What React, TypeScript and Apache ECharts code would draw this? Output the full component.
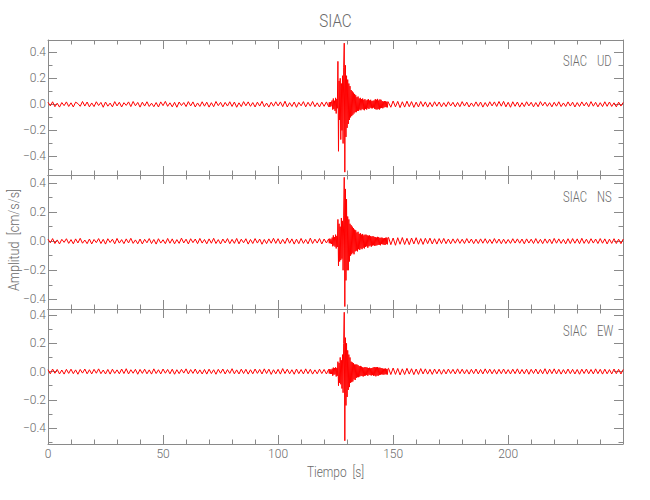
import React, { useEffect, useRef } from "react";
import * as echarts from "echarts";

// ---- Data (acceleration, cm/s/s) ----
const stationName = "SIAC";
const componentNames = ["UD", "NS", "EW"];
const xTickLabels = ["0", "50", "100", "150", "200"];
const yTickLabels = ["-0.4", "-0.2", "0.0", "0.2", "0.4"];

// sampling of the three segments of each trace (s)
const preStart = 0;
const preStep = 1;
const eventStart = 122;
const eventStep = 0.25;
const postStart = 148;
const postStep = 1;

const udPre = [
  0.016,-0.012,0.02,-0.018,0.009,-0.021,0.014,-0.01,0.019,-0.016,
  0.012,-0.02,0.017,0.006,-0.015,0.022,-0.013,0.018,-0.019,0.011,
  -0.017,0.02,-0.009,0.015,-0.022,0.018,-0.014,0.01,-0.019,0.021,
  -0.012,0.016,-0.02,0.013,-0.008,0.019,-0.017,0.022,-0.011,0.015,
  -0.021,0.017,-0.013,0.02,-0.016,0.009,-0.018,0.014,-0.02,0.019,
  -0.01,0.023,-0.015,0.012,-0.019,0.016,-0.022,0.018,-0.009,0.014,
  -0.017,0.021,-0.012,0.019,-0.02,0.011,-0.016,0.02,-0.014,0.017,
  -0.021,0.013,-0.018,0.022,-0.01,0.016,-0.019,0.015,-0.013,0.02,
  -0.016,0.018,-0.022,0.012,-0.017,0.021,-0.011,0.019,-0.015,0.014,
  -0.02,0.017,-0.013,0.023,-0.018,0.01,-0.021,0.016,-0.014,0.02,
  -0.012,0.019,-0.017,0.024,-0.02,0.013,-0.016,0.018,-0.022,0.015,
  -0.011,0.021,-0.019,0.016,-0.014,0.022,-0.018,0.012,-0.02,0.017,
  -0.015,0.019,
];
const udEvent = [
  -0.018,0.016,-0.02,0.017,-0.015,0.021,
  0.03,-0.04,0.045,-0.035,0.028,-0.05,
  0.05,-0.07,0.04,-0.03,
  0.33,-0.36,0.18,-0.12,
  0.2,-0.27,0.16,-0.2,
  0.22,-0.3,0.28,
  0.47,-0.52,0.3,
  -0.25,0.22,-0.18,0.19,
  -0.15,0.16,-0.12,0.14,
  -0.1,0.11,-0.09,0.1,-0.08,0.09,
  -0.07,0.08,-0.06,0.07,-0.06,0.055,-0.05,0.06,
  -0.05,0.045,-0.04,0.05,-0.045,0.04,-0.035,0.045,-0.04,0.035,-0.045,0.04,
  -0.035,0.03,-0.04,0.035,-0.03,0.04,-0.035,0.03,-0.025,0.035,-0.03,0.025,
  -0.03,0.028,-0.025,0.03,-0.035,0.04,-0.038,0.035,-0.04,0.042,-0.035,0.03,
  -0.04,0.038,-0.03,0.035,-0.028,0.025,-0.03,0.022,
  -0.024,0.025,-0.02,0.024,-0.022,0.02,-0.023,0.021,
];
const udPost = [
  0.024,-0.022,0.026,-0.019,0.023,-0.025,0.02,-0.021,0.024,-0.018,
  0.021,-0.023,0.017,-0.02,0.022,-0.016,0.019,-0.021,0.015,-0.018,
  0.02,-0.014,0.018,-0.019,0.013,-0.017,0.02,-0.012,0.016,-0.019,
  0.015,-0.018,0.021,-0.013,0.017,-0.02,0.011,-0.016,0.019,-0.015,
  0.018,-0.021,0.014,-0.017,0.02,-0.012,0.019,-0.016,0.022,-0.014,
  0.023,-0.019,0.016,-0.022,0.02,-0.015,0.018,-0.021,0.013,-0.017,
  0.02,-0.012,0.016,-0.019,0.014,-0.018,0.021,-0.011,0.017,-0.015,
  0.013,-0.019,0.016,-0.014,0.02,-0.017,0.011,-0.016,0.019,-0.013,
  0.017,-0.02,0.014,-0.016,0.019,-0.012,0.015,-0.018,0.021,-0.014,
  0.016,-0.019,0.013,-0.017,0.02,-0.015,0.018,-0.016,0.012,-0.019,
  0.017,-0.013,0.015,
];

const nsPre = [
  0.014,-0.011,0.018,-0.016,0.009,-0.019,0.013,-0.008,0.017,-0.015,
  0.011,-0.018,0.016,-0.012,0.02,-0.014,0.008,-0.017,0.015,-0.019,
  0.012,-0.01,0.018,-0.016,0.013,-0.02,0.017,-0.009,0.014,-0.018,
  0.019,-0.013,0.011,-0.017,0.016,-0.012,0.02,-0.015,0.009,-0.018,
  0.015,-0.019,0.013,-0.011,0.018,-0.016,0.012,-0.02,0.017,-0.013,
  0.01,-0.017,0.019,-0.014,0.016,-0.018,0.011,-0.015,0.021,-0.012,
  0.014,-0.019,0.017,-0.01,0.015,-0.017,0.019,-0.013,0.012,-0.018,
  0.016,-0.014,0.02,-0.016,0.011,-0.019,0.015,-0.012,0.018,-0.017,
  0.013,-0.015,0.019,-0.018,0.014,-0.011,0.017,-0.02,0.012,-0.016,
  0.018,-0.013,0.015,-0.021,0.012,-0.017,0.016,-0.014,0.02,-0.015,
  0.017,-0.019,0.013,-0.016,0.022,-0.014,0.016,-0.02,0.014,-0.017,
  0.019,-0.015,0.012,-0.018,0.021,-0.016,0.014,-0.013,0.018,-0.019,
  0.015,-0.012,
];
const nsEvent = [
  0.016,-0.014,0.018,-0.015,0.013,-0.019,
  0.025,-0.035,0.04,-0.03,0.028,-0.038,
  0.045,-0.05,0.035,-0.04,
  0.15,-0.17,0.12,-0.14,
  0.1,-0.13,0.16,-0.12,
  0.14,-0.2,0.18,
  0.44,-0.45,0.36,
  -0.27,0.29,-0.2,0.17,
  -0.2,0.15,-0.14,0.12,
  -0.1,0.11,-0.09,0.1,-0.08,0.09,
  -0.09,0.08,-0.07,0.075,-0.065,0.06,-0.07,0.065,
  -0.055,0.05,-0.06,0.055,-0.05,0.045,-0.055,0.05,-0.045,0.04,-0.05,0.045,
  -0.04,0.045,-0.035,0.04,-0.045,0.038,-0.035,0.04,-0.03,0.035,-0.038,0.032,
  -0.03,0.035,-0.028,0.03,-0.032,0.028,-0.03,0.025,-0.028,0.03,-0.025,0.028,
  -0.025,0.022,-0.028,0.025,-0.02,0.024,-0.022,0.02,
  -0.024,0.022,-0.026,0.024,-0.02,0.025,-0.022,0.023,
];
const nsPost = [
  0.026,-0.024,0.022,-0.028,0.024,-0.021,0.025,-0.023,0.02,-0.024,
  0.022,-0.019,0.024,-0.021,0.018,-0.022,0.02,-0.017,0.021,-0.019,
  0.017,-0.02,0.018,-0.016,0.019,-0.017,0.015,-0.018,0.016,-0.014,
  0.017,-0.015,0.014,-0.016,0.018,-0.013,0.015,-0.017,0.014,-0.016,
  0.016,-0.014,0.017,-0.015,0.013,-0.016,0.018,-0.014,0.015,-0.017,
  0.014,-0.016,0.012,-0.015,0.017,-0.013,0.016,-0.014,0.015,-0.018,
  0.016,-0.013,0.014,-0.016,0.018,-0.015,0.013,-0.017,0.016,-0.014,
  0.015,-0.017,0.019,-0.014,0.016,-0.015,0.013,-0.018,0.017,-0.016,
  0.018,-0.014,0.016,-0.017,0.02,-0.015,0.014,-0.016,0.017,-0.013,
  0.015,-0.016,0.018,-0.014,0.016,-0.019,0.014,-0.015,0.017,-0.016,
  0.014,-0.017,0.015,
];

const ewPre = [
  0.013,-0.016,0.018,-0.012,0.015,-0.017,0.011,-0.018,0.016,-0.013,
  0.017,-0.015,0.012,-0.019,0.015,-0.011,0.018,-0.016,0.013,-0.017,
  0.016,-0.012,0.019,-0.015,0.011,-0.017,0.015,-0.018,0.017,-0.013,
  0.012,-0.016,0.018,-0.014,0.02,-0.017,0.013,-0.012,0.016,-0.019,
  0.015,-0.013,0.017,-0.016,0.012,-0.018,0.019,-0.014,0.013,-0.017,
  0.018,-0.012,0.015,-0.016,0.017,-0.019,0.013,-0.015,0.016,-0.011,
  0.019,-0.017,0.014,-0.013,0.018,-0.016,0.012,-0.017,0.015,-0.018,
  0.017,-0.014,0.013,-0.019,0.016,-0.012,0.018,-0.017,0.014,-0.013,
  0.02,-0.016,0.012,-0.017,0.017,-0.014,0.016,-0.018,0.013,-0.016,
  0.018,-0.013,0.015,-0.017,0.019,-0.014,0.017,-0.02,0.013,-0.016,
  0.016,-0.018,0.021,-0.014,0.017,-0.016,0.013,-0.019,0.018,-0.015,
  0.014,-0.017,0.019,-0.015,0.016,-0.018,0.012,-0.016,0.017,-0.014,
  0.015,-0.017,
];
const ewEvent = [
  0.016,-0.014,0.018,-0.016,0.013,-0.017,
  0.02,-0.03,0.028,-0.022,0.025,-0.02,
  0.03,-0.035,0.025,-0.03,
  0.07,-0.1,0.06,-0.08,
  0.1,-0.09,0.08,-0.12,
  0.12,-0.15,0.2,
  0.42,-0.49,0.24,
  -0.24,0.2,-0.18,0.15,
  -0.13,0.12,-0.11,0.1,
  -0.08,0.07,-0.075,0.065,-0.07,0.06,
  -0.055,0.05,-0.06,0.05,-0.045,0.05,-0.04,0.045,
  -0.04,0.038,-0.035,0.04,-0.03,0.035,-0.032,0.03,-0.035,0.028,-0.03,0.032,
  -0.028,0.03,-0.025,0.028,-0.03,0.025,-0.022,0.027,-0.025,0.023,-0.028,0.025,
  -0.025,0.028,-0.03,0.032,-0.028,0.03,-0.034,0.03,-0.028,0.032,-0.03,0.027,
  -0.025,0.028,-0.022,0.025,-0.02,0.023,-0.021,0.02,
  -0.022,0.02,-0.019,0.022,-0.02,0.018,-0.021,0.02,
];
const ewPost = [
  0.023,-0.021,0.025,-0.02,0.022,-0.024,0.019,-0.021,0.023,-0.018,
  0.02,-0.022,0.018,-0.02,0.021,-0.017,0.019,-0.018,0.016,-0.02,
  0.018,-0.016,0.017,-0.019,0.015,-0.017,0.018,-0.014,0.016,-0.017,
  0.019,-0.015,0.017,-0.016,0.014,-0.018,0.016,-0.015,0.018,-0.017,
  0.015,-0.017,0.019,-0.014,0.017,-0.016,0.015,-0.018,0.016,-0.015,
  0.018,-0.016,0.014,-0.017,0.017,-0.015,0.019,-0.017,0.015,-0.016,
  0.017,-0.019,0.016,-0.014,0.018,-0.017,0.015,-0.016,0.02,-0.018,
  0.017,-0.015,0.019,-0.017,0.016,-0.018,0.014,-0.016,0.018,-0.015,
  0.016,-0.017,0.015,-0.019,0.017,-0.014,0.018,-0.016,0.015,-0.017,
  0.019,-0.015,0.016,-0.018,0.017,-0.016,0.014,-0.017,0.018,-0.015,
  0.016,-0.017,0.015,
];

const traces = [
  { pre: udPre, event: udEvent, post: udPost },
  { pre: nsPre, event: nsEvent, post: nsPost },
  { pre: ewPre, event: ewEvent, post: ewPost },
];

// axis extents of the three panels
const yRanges = [
  [-0.542, 0.494],
  [-0.467, 0.456],
  [-0.513, 0.443],
];
const xMin = 0;
const xMax = 249.9;

// ---- layout / style ----
const FONT = "Roboto, 'Liberation Sans', sans-serif";
const TEXT = "#6a6a6a";
const AXIS = "#8a8a8a";
const gridLeft = 48;
const gridWidth = 575;
const gridTops = [40, 175, 309];
const gridHeights = [135, 134, 135];

function buildTrace(t: { pre: number[]; event: number[]; post: number[] }) {
  const out: number[][] = [];
  t.pre.forEach((v, i) => out.push([preStart + i * preStep, v]));
  t.event.forEach((v, i) => out.push([eventStart + i * eventStep, v]));
  t.post.forEach((v, i) => out.push([postStart + i * postStep, v]));
  return out;
}

function fmtY(v: number) {
  return v.toFixed(1).replace("-", "\u2212");
}

export default function App() {
  const ref = useRef<HTMLDivElement>(null);
  useEffect(() => {
    if (!ref.current) return;
    const chart = echarts.init(ref.current, undefined, { renderer: "svg" });

    const grid: any[] = [];
    const xAxis: any[] = [];
    const yAxis: any[] = [];
    const series: any[] = [];

    for (let i = 0; i < 3; i++) {
      grid.push({ left: gridLeft, width: gridWidth, top: gridTops[i], height: gridHeights[i] });
      const xCommon = {
        gridIndex: i,
        type: "value",
        min: xMin,
        max: xMax,
        interval: 50,
        axisLine: { show: true, onZero: false, lineStyle: { color: AXIS, width: 1 } },
        axisTick: { show: true, inside: true, length: 9, lineStyle: { color: AXIS } },
        minorTick: { show: true, splitNumber: 5, length: 4.5, lineStyle: { color: AXIS } },
        splitLine: { show: false },
      };
      xAxis.push({
        ...xCommon,
        position: "bottom",
        axisLabel: {
          show: i === 2,
          color: TEXT,
          fontFamily: FONT,
          fontWeight: 300,
          fontSize: 12,
          margin: 4,
          showMaxLabel: false,
          formatter: (v: number) => {
            const idx = Math.round(v / 50);
            return Math.abs(v - idx * 50) < 1e-6 && xTickLabels[idx] ? xTickLabels[idx] : "";
          },
        },
      });
      xAxis.push({ ...xCommon, position: "top", axisLabel: { show: false } });

      const yCommon = {
        gridIndex: i,
        type: "value",
        min: yRanges[i][0],
        max: yRanges[i][1],
        splitNumber: 5,
        axisLine: { show: true, onZero: false, lineStyle: { color: AXIS, width: 1 } },
        axisTick: { show: true, inside: true, length: 9, lineStyle: { color: AXIS } },
        minorTick: { show: true, splitNumber: 2, length: 4.5, lineStyle: { color: AXIS } },
        splitLine: { show: false },
      };
      yAxis.push({
        ...yCommon,
        position: "left",
        axisLabel: {
          show: true,
          color: TEXT,
          fontFamily: FONT,
          fontWeight: 300,
          fontSize: 12,
          margin: 2,
          showMinLabel: false,
          showMaxLabel: false,
          formatter: (v: number) => {
            const found = yTickLabels.find((l) => Math.abs(parseFloat(l) - v) < 1e-6);
            return found ? fmtY(parseFloat(found)) : "";
          },
        },
      });
      yAxis.push({ ...yCommon, position: "right", axisLabel: { show: false } });

      series.push({
        type: "line",
        xAxisIndex: 2 * i,
        yAxisIndex: 2 * i,
        data: buildTrace(traces[i]),
        showSymbol: false,
        symbol: "none",
        lineStyle: { color: "#ff0000", width: 1 },
        itemStyle: { color: "#ff0000" },
        silent: true,
      });
    }

    const panelLabelY = [61, 197, 331];
    const graphic: any[] = [
      {
        type: "text",
        x: gridLeft + gridWidth / 2,
        y: 20,
        scaleX: 0.8,
        style: { text: stationName, fill: TEXT, font: `300 19px ${FONT}`, align: "center", verticalAlign: "middle" },
      },
      {
        type: "text",
        x: gridLeft + gridWidth / 2,
        y: 472,
        scaleX: 0.85,
        style: { text: "Tiempo  [s]", fill: TEXT, font: `300 14px ${FONT}`, align: "center", verticalAlign: "middle" },
      },
      {
        type: "text",
        x: 14,
        y: 240,
        rotation: Math.PI / 2,
        scaleX: 0.9,
        style: { text: "Amplitud  [cm/s/s]", fill: TEXT, font: `300 14px ${FONT}`, align: "center", verticalAlign: "middle" },
      },
    ];
    componentNames.forEach((c, i) => {
      graphic.push({
        type: "text",
        x: 563,
        y: panelLabelY[i],
        scaleX: 0.8,
        style: { text: stationName, fill: TEXT, font: `300 14px ${FONT}`, align: "left", verticalAlign: "middle" },
      });
      graphic.push({
        type: "text",
        x: 597,
        y: panelLabelY[i],
        scaleX: 0.8,
        style: { text: c, fill: TEXT, font: `300 14px ${FONT}`, align: "left", verticalAlign: "middle" },
      });
    });

    chart.setOption({
      animation: false,
      backgroundColor: "#ffffff",
      grid,
      xAxis,
      yAxis,
      series,
      graphic,
    });
    return () => chart.dispose();
  }, []);

  return (
    <div
      ref={ref}
      style={{ position: "fixed", left: 0, top: 0, width: 650, height: 500, background: "#fff" }}
    />
  );
}
